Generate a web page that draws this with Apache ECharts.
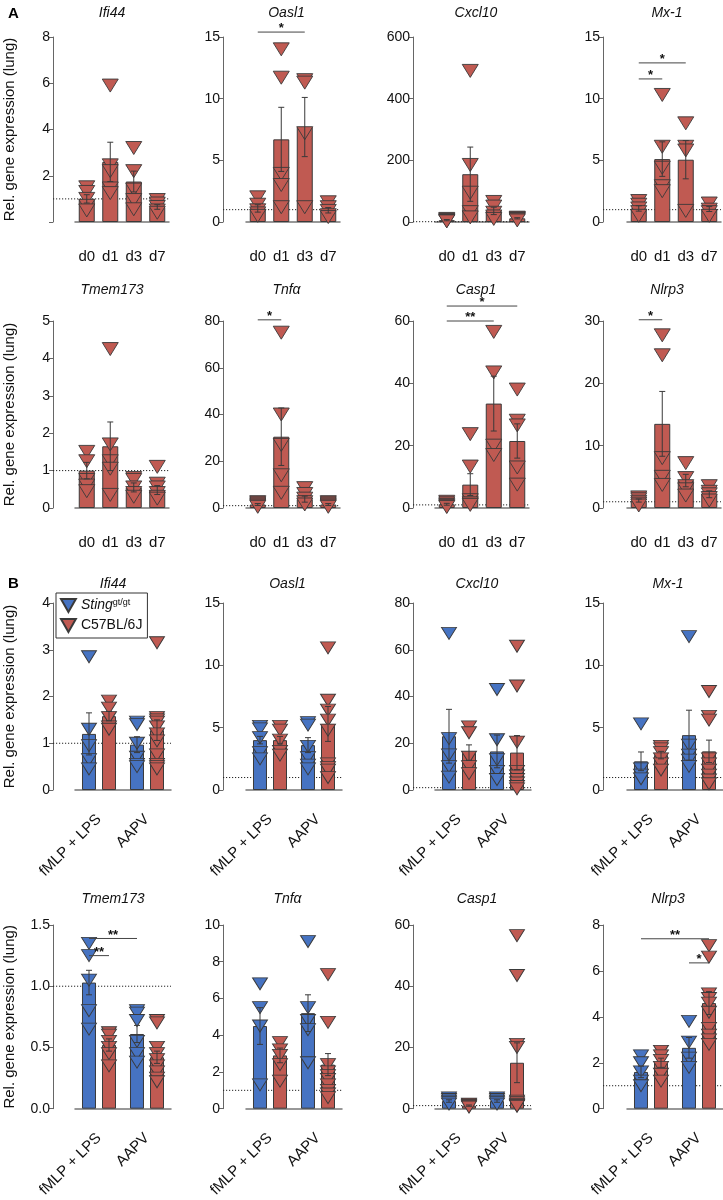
<!DOCTYPE html>
<html lang="en">
<head>
<meta charset="UTF-8">
<title>Rel. gene expression (lung)</title>
<script src="https://cdn.jsdelivr.net/npm/echarts@6/dist/echarts.min.js"></script>
<style>
  html, body { margin: 0; padding: 0; background: #fff; }
  #chart { width: 723px; height: 1200px; }
</style>
</head>
<body>
<div id="chart"></div>
<script>
    var FONT = '"Liberation Sans", Arial, sans-serif';
    var RED = '#c05a52';
    var BLUE = '#4673c2';
    var EDGE = '#3a3a3a';

    var dayCats = ['d0', 'd1', 'd3', 'd7'];
    var treatCats = ['fMLP + LPS', 'AAPV'];
    var refLevel = 1;   // dotted line, relative expression of 1

    // ---- A: time course (C57BL/6J) ----
    var ifi44A_mean = [1.0, 2.6, 1.75, 0.65];
    var ifi44A_sem = [0.18, 0.85, 0.45, 0.1];
    var ifi44A_pts = [[1.5, 1.3, 1.0, 0.7, 0.5], [5.9, 2.45, 2.2, 1.45, 1.25], [3.2, 2.2, 1.4, 0.95, 0.55], [0.95, 0.8, 0.65, 0.5, 0.4]];

    var oasl1A_mean = [1.1, 6.7, 7.7, 0.95];
    var oasl1A_sem = [0.3, 2.6, 2.4, 0.22];
    var oasl1A_pts = [[2.0, 1.4, 0.95, 0.7, 0.5], [14.0, 11.7, 3.9, 3.0, 1.2], [11.5, 11.3, 7.2, 1.2], [1.6, 1.2, 0.9, 0.55, 0.4]];
    var oasl1A_sig = [[0, 0, 2, 0, 15.4, '*']];

    var cxcl10A_mean = [6, 155, 36, 12];
    var cxcl10A_sem = [2, 88, 12, 2];
    var cxcl10A_pts = [[10, 7, 5, 3, 2], [490, 185, 95, 32, 15], [65, 50, 30, 18, 10], [14, 12, 10, 8, 5]];

    var mx1A_mean = [1.1, 5.1, 5.05, 1.05];
    var mx1A_sem = [0.22, 1.4, 1.55, 0.2];
    var mx1A_pts = [[1.7, 1.4, 1.1, 0.8, 0.5], [10.3, 6.1, 4.4, 2.9, 2.5], [8.0, 6.1, 5.8, 0.9], [1.5, 1.0, 0.8, 0.5]];
    var mx1A_sig = [[0, 0, 1, 0, 11.6, '*'], [0, 0, 2, 0, 12.9, '*']];

    var tmem173A_mean = [1.0, 1.65, 0.55, 0.48];
    var tmem173A_sem = [0.22, 0.65, 0.12, 0.12];
    var tmem173A_pts = [[1.5, 1.25, 0.75, 0.6, 0.45], [4.25, 1.7, 1.25, 1.05, 0.35], [0.8, 0.75, 0.55, 0.4, 0.3], [1.1, 0.65, 0.55, 0.4, 0.3, 0.25]];

    var tnfA_mean = [1.5, 30.5, 3.8, 1.5];
    var tnfA_sem = [0.4, 12.3, 1.3, 0.4];
    var tnfA_pts = [[2.5, 2.0, 1.5, 1.0, 0.5], [75, 40, 27, 14, 6.5], [8.5, 6, 4, 2.5, 1.5], [2.5, 2, 1.5, 1, 0.5]];
    var tnfA_sig = [[0, 0, 1, 0, 80.5, '*']];

    var casp1A_mean = [1.2, 7.5, 33.5, 21.5];
    var casp1A_sem = [0.3, 3.5, 8.8, 5.5];
    var casp1A_pts = [[2, 1.5, 1, 0.6, 0.3], [23.7, 13.3, 2.5, 1.5, 1], [56.5, 43.5, 20, 17], [38, 28, 26.5, 13, 7.5]];
    var casp1A_sig = [[0, 0, 2, 0, 60, '**'], [0, 0, 3, 0, 64.8, '*']];

    var nlrp3A_mean = [1.2, 13.5, 4.4, 2.2];
    var nlrp3A_sem = [0.25, 5.2, 1.0, 0.55];
    var nlrp3A_pts = [[1.7, 1.4, 1.0, 0.7, 0.4], [27.7, 24.5, 8, 5, 3.7], [7.2, 4.8, 3.5, 3.0, 2.0], [3.5, 2.6, 2.2, 1.6, 1.2]];
    var nlrp3A_sig = [[0, 0, 1, 0, 30.2, '*']];

    // ---- B: Sting gt/gt vs C57BL/6J ----
    var ifi44B_stingMean = [1.2, 0.97], ifi44B_stingSem = [0.45, 0.17];
    var ifi44B_stingPts = [[2.85, 1.3, 0.95, 0.65, 0.45], [1.45, 1.4, 1.0, 0.7, 0.55, 0.5]];
    var ifi44B_c57Mean = [1.58, 1.28], ifi44B_c57Sem = [0.1, 0.22];
    var ifi44B_c57Pts = [[1.9, 1.75, 1.55, 1.35, 1.3], [3.15, 1.55, 1.5, 1.45, 1.35, 1.2, 1.05, 0.75, 0.55, 0.5, 0.45]];

    var oasl1B_stingMean = [4.0, 3.6], oasl1B_stingSem = [0.3, 0.6];
    var oasl1B_stingPts = [[5.1, 4.9, 4.2, 3.0, 2.5], [5.4, 5.2, 3.5, 2.6, 2.0, 1.7]];
    var oasl1B_c57Mean = [4.0, 5.3], oasl1B_c57Sem = [0.3, 1.4];
    var oasl1B_c57Pts = [[5.1, 4.8, 4.0, 3.1, 2.8], [11.4, 7.2, 6.4, 5.6, 4.8, 2.1, 1.8, 1.6, 1.0]];

    var cxcl10B_stingMean = [23, 16.5], cxcl10B_stingSem = [11.5, 7];
    var cxcl10B_stingPts = [[67, 22, 15, 10, 5.5], [43, 21.5, 13, 8, 4.5]];
    var cxcl10B_c57Mean = [16, 16], cxcl10B_c57Sem = [3.3, 7.3];
    var cxcl10B_c57Pts = [[27, 24.5, 14, 10, 7], [61.5, 44.5, 20.5, 8, 6, 4.5, 3, 1.5, 0.5]];

    var mx1B_stingMean = [2.3, 4.4], mx1B_stingSem = [0.75, 2.0];
    var mx1B_stingPts = [[5.3, 1.7, 1.2, 0.9], [12.3, 3.6, 2.8, 2.4, 1.9]];
    var mx1B_c57Mean = [2.8, 3.1], mx1B_c57Sem = [0.3, 0.9];
    var mx1B_c57Pts = [[3.5, 3.3, 3.0, 2.5, 2.1, 1.6], [7.9, 5.9, 5.6, 2.5, 2.1, 1.6, 1.2, 0.8, 0.5]];

    var tmem173B_stingMean = [1.03, 0.61], tmem173B_stingSem = [0.1, 0.07];
    var tmem173B_stingPts = [[1.35, 1.25, 1.05, 0.8, 0.65], [0.8, 0.78, 0.72, 0.55, 0.45, 0.38]];
    var tmem173B_c57Mean = [0.52, 0.42], tmem173B_c57Sem = [0.05, 0.05];
    var tmem173B_c57Pts = [[0.62, 0.6, 0.55, 0.5, 0.45, 0.35], [0.72, 0.7, 0.5, 0.45, 0.4, 0.35, 0.3, 0.25, 0.22]];
    var tmem173B_sig = [[0, -1, 1, -1, 1.39, '**'], [0, -1, 0, 1, 1.25, '**']];

    var tnfB_stingMean = [4.5, 5.2], tnfB_stingSem = [1.0, 1.0];
    var tnfB_stingPts = [[6.8, 5.5, 4.5, 1.3], [9.1, 5.5, 4.8, 4.3, 2.5]];
    var tnfB_c57Mean = [2.9, 2.4], tnfB_c57Sem = [0.4, 0.6];
    var tnfB_c57Pts = [[3.6, 3.2, 2.9, 2.4, 1.5], [7.3, 4.7, 2.4, 2.0, 1.8, 1.6, 1.3, 1.0, 0.8, 0.6]];

    var casp1B_stingMean = [2.5, 2.5], casp1B_stingSem = [0.4, 0.4];
    var casp1B_stingPts = [[3.5, 3, 2.5, 2, 1.5], [3.5, 3, 2.5, 2, 1.5]];
    var casp1B_c57Mean = [1.0, 15], casp1B_c57Sem = [0.2, 6.5];
    var casp1B_c57Pts = [[1.5, 1.2, 1, 0.8, 0.5], [56.5, 43.5, 21, 20, 2.5, 2, 1.5, 1.2, 1, 0.8]];

    var nlrp3B_stingMean = [1.6, 2.65], nlrp3B_stingSem = [0.25, 0.45];
    var nlrp3B_stingPts = [[2.3, 2.0, 1.6, 1.2, 1.0], [3.8, 2.9, 2.2, 1.8]];
    var nlrp3B_c57Mean = [2.0, 4.6], nlrp3B_c57Sem = [0.2, 0.5];
    var nlrp3B_c57Pts = [[2.5, 2.3, 2.1, 1.8, 1.5, 1.2], [7.1, 6.6, 5.0, 4.8, 4.6, 4.2, 3.5, 3.2, 3.0, 2.8]];
    var nlrp3B_sig = [[0, -1, 1, 1, 7.4, '**'], [1, -1, 1, 1, 6.35, '*']];

    // layout
    var rowTops = [37, 321, 603, 925];
    var rowHeights = [185, 187, 187, 187];
    var titleTops = [1, 278, 572, 887];
    var colLefts = [75, 246, 435, 627];
    var colYOff = [22, 23, 22, 24];
    var PAIR_OFF = 10;   // half distance between the two bars of a group

    var panels = [
        {t: 'Ifi44', row: 0, col: 0, max: 8, step: 2, hideZero: true, mean: ifi44A_mean, sem: ifi44A_sem, pts: ifi44A_pts},
        {t: 'Oasl1', row: 0, col: 1, max: 15, step: 5, mean: oasl1A_mean, sem: oasl1A_sem, pts: oasl1A_pts, sig: oasl1A_sig},
        {t: 'Cxcl10', row: 0, col: 2, max: 600, step: 200, mean: cxcl10A_mean, sem: cxcl10A_sem, pts: cxcl10A_pts},
        {t: 'Mx-1', row: 0, col: 3, max: 15, step: 5, mean: mx1A_mean, sem: mx1A_sem, pts: mx1A_pts, sig: mx1A_sig},
        {t: 'Tmem173', row: 1, col: 0, max: 5, step: 1, mean: tmem173A_mean, sem: tmem173A_sem, pts: tmem173A_pts},
        {t: 'Tnfα', row: 1, col: 1, max: 80, step: 20, mean: tnfA_mean, sem: tnfA_sem, pts: tnfA_pts, sig: tnfA_sig},
        {t: 'Casp1', row: 1, col: 2, max: 60, step: 20, mean: casp1A_mean, sem: casp1A_sem, pts: casp1A_pts, sig: casp1A_sig},
        {t: 'Nlrp3', row: 1, col: 3, max: 30, step: 10, mean: nlrp3A_mean, sem: nlrp3A_sem, pts: nlrp3A_pts, sig: nlrp3A_sig},

        {t: 'Ifi44', row: 2, col: 0, max: 4, step: 1, groups: [[ifi44B_stingMean, ifi44B_stingSem, ifi44B_stingPts], [ifi44B_c57Mean, ifi44B_c57Sem, ifi44B_c57Pts]]},
        {t: 'Oasl1', row: 2, col: 1, max: 15, step: 5, groups: [[oasl1B_stingMean, oasl1B_stingSem, oasl1B_stingPts], [oasl1B_c57Mean, oasl1B_c57Sem, oasl1B_c57Pts]]},
        {t: 'Cxcl10', row: 2, col: 2, max: 80, step: 20, groups: [[cxcl10B_stingMean, cxcl10B_stingSem, cxcl10B_stingPts], [cxcl10B_c57Mean, cxcl10B_c57Sem, cxcl10B_c57Pts]]},
        {t: 'Mx-1', row: 2, col: 3, max: 15, step: 5, groups: [[mx1B_stingMean, mx1B_stingSem, mx1B_stingPts], [mx1B_c57Mean, mx1B_c57Sem, mx1B_c57Pts]]},
        {t: 'Tmem173', row: 3, col: 0, max: 1.5, step: 0.5, dec: 1, sig: tmem173B_sig, groups: [[tmem173B_stingMean, tmem173B_stingSem, tmem173B_stingPts], [tmem173B_c57Mean, tmem173B_c57Sem, tmem173B_c57Pts]]},
        {t: 'Tnfα', row: 3, col: 1, max: 10, step: 2, groups: [[tnfB_stingMean, tnfB_stingSem, tnfB_stingPts], [tnfB_c57Mean, tnfB_c57Sem, tnfB_c57Pts]]},
        {t: 'Casp1', row: 3, col: 2, max: 60, step: 20, groups: [[casp1B_stingMean, casp1B_stingSem, casp1B_stingPts], [casp1B_c57Mean, casp1B_c57Sem, casp1B_c57Pts]]},
        {t: 'Nlrp3', row: 3, col: 3, max: 8, step: 2, sig: nlrp3B_sig, groups: [[nlrp3B_stingMean, nlrp3B_stingSem, nlrp3B_stingPts], [nlrp3B_c57Mean, nlrp3B_c57Sem, nlrp3B_c57Pts]]}
    ];

    var option = {
        animation: false,
        backgroundColor: '#fff',
        title: [
            {text: 'A', left: 3, top: 1, textStyle: {fontSize: 15, fontWeight: 'bold', fontFamily: FONT, color: '#000'}},
            {text: 'B', left: 3, top: 571, textStyle: {fontSize: 15, fontWeight: 'bold', fontFamily: FONT, color: '#000'}}
        ],
        legend: {
            data: ['Sting', 'C57BL/6J'],
            orient: 'vertical',
            left: 56, top: 593,
            borderColor: '#333', borderWidth: 1,
            padding: [5, 5, 5, 4], itemGap: 5,
            itemWidth: 15, itemHeight: 13,
            icon: 'path://M0,0L16,0L8,14Z',
            formatter: function (n) { return n === 'Sting' ? '{it|Sting}{sup|gt/gt}' : n; },
            textStyle: {
                fontSize: 14, fontFamily: FONT, color: '#111',
                rich: {
                    it: {fontStyle: 'italic', fontSize: 14, fontFamily: FONT, color: '#111'},
                    sup: {fontSize: 9, fontFamily: FONT, color: '#111', verticalAlign: 'top', padding: [0, 0, 6, 0]}
                }
            }
        },
        grid: [], xAxis: [], yAxis: [], series: []
    };

    function errRender(off) {
        return function (params, api) {
            var c = api.value(0), m = api.value(1), s = api.value(2);
            var x = api.coord([c, m])[0] + off;
            var yt = api.coord([c, m + s])[1];
            var yb = api.coord([c, Math.max(m - s, 0)])[1];
            var st = {stroke: '#3a3a3a', lineWidth: 1};
            return {type: 'group', children: [
                {type: 'line', shape: {x1: x, y1: yt, x2: x, y2: yb}, style: st},
                {type: 'line', shape: {x1: x - 3, y1: yt, x2: x + 3, y2: yt}, style: st},
                {type: 'line', shape: {x1: x - 3, y1: yb, x2: x + 3, y2: yb}, style: st}
            ]};
        };
    }

    function refRender(yOff) {
        return function (params, api) {
            var cs = params.coordSys;
            var y = api.coord([0, api.value(1)])[1];
            return {type: 'line', shape: {x1: cs.x - yOff, y1: y, x2: cs.x + cs.width, y2: y},
                style: {stroke: '#222', lineWidth: 1, lineDash: [1.2, 1.8]}};
        };
    }

    function sigRender(sig) {
        return function (params, api) {
            var s = sig[params.dataIndex];
            var p1 = api.coord([s[0], s[4]]);
            var p2 = api.coord([s[2], s[4]]);
            var x1 = p1[0] + s[1] * PAIR_OFF, x2 = p2[0] + s[3] * PAIR_OFF;
            return {type: 'group', children: [
                {type: 'line', shape: {x1: x1, y1: p1[1], x2: x2, y2: p1[1]}, style: {stroke: '#444', lineWidth: 1}},
                {type: 'text', style: {text: s[5], x: (x1 + x2) / 2, y: p1[1] + 3, align: 'center', verticalAlign: 'bottom',
                    fontSize: 13, fontWeight: 'bold', fontFamily: FONT, fill: '#111'}}
            ]};
        };
    }

    panels.forEach(function (p, i) {
        var grouped = !!p.groups;
        var left = colLefts[p.col], yOff = colYOff[p.col];
        var width = grouped ? 96 : 94;
        option.grid.push({left: left, top: rowTops[p.row], width: width, height: rowHeights[p.row]});

        option.title.push({
            text: p.t, left: (left - yOff + left + width) / 2 - (p.col === 0 ? 4 : 0), top: titleTops[p.row], textAlign: 'center',
            textStyle: {fontSize: 14, fontStyle: 'italic', fontWeight: 'normal', fontFamily: FONT, color: '#111'}
        });

        option.xAxis.push({
            gridIndex: i, type: 'category', data: grouped ? treatCats : dayCats, offset: 20,
            axisLine: {lineStyle: {color: '#777', width: 1.5}},
            axisTick: {alignWithLabel: true, length: 4, lineStyle: {color: '#777'}},
            axisLabel: {fontSize: 15, fontFamily: FONT, color: '#111', margin: 7, rotate: grouped ? 45 : 0, interval: 0}
        });

        option.yAxis.push({
            gridIndex: i, type: 'value', min: 0, max: p.max, interval: p.step, offset: yOff,
            name: p.col === 0 ? 'Rel. gene expression (lung)' : '',
            nameLocation: 'middle', nameGap: 36,
            nameTextStyle: {fontSize: 15, fontFamily: FONT, color: '#111'},
            axisLine: {show: true, lineStyle: {color: '#666', width: 1}},
            axisTick: {show: true, length: 4, lineStyle: {color: '#666'}},
            splitLine: {show: false},
            axisLabel: {fontSize: 14, fontFamily: FONT, color: '#111', margin: 3,
                formatter: function (v) {
                    if (p.hideZero && v === 0) return '';
                    return p.dec ? v.toFixed(p.dec) : String(v);
                }}
        });

        option.series.push({
            type: 'custom', xAxisIndex: i, yAxisIndex: i, z: 1, silent: true,
            data: [[0, refLevel]], renderItem: refRender(yOff)
        });

        var groups = grouped ? p.groups : [[p.mean, p.sem, p.pts]];
        groups.forEach(function (g, k) {
            var color = grouped ? (k === 0 ? BLUE : RED) : RED;
            var off = grouped ? (k === 0 ? -PAIR_OFF : PAIR_OFF) : 0;
            option.series.push({
                name: grouped ? (k === 0 ? 'Sting' : 'C57BL/6J') : 'day',
                type: 'bar', xAxisIndex: i, yAxisIndex: i, z: 2,
                barWidth: grouped ? 14 : 16, barGap: '43%',
                itemStyle: {color: color, borderColor: EDGE, borderWidth: 1},
                data: g[0]
            });
            var pts = [];
            g[2].forEach(function (arr, c) { arr.forEach(function (v) { pts.push([c, v]); }); });
            option.series.push({
                name: 'points', type: 'scatter', xAxisIndex: i, yAxisIndex: i, z: 3,
                symbol: 'triangle', symbolRotate: 180, symbolSize: grouped ? [15, 12] : [16, 13],
                symbolOffset: [off, 0],
                itemStyle: {color: color, borderColor: EDGE, borderWidth: 0.9, opacity: 1},
                data: pts
            });
            option.series.push({
                type: 'custom', xAxisIndex: i, yAxisIndex: i, z: 4, silent: true,
                data: g[0].map(function (m, c) { return [c, m, g[1][c]]; }),
                renderItem: errRender(off)
            });
        });

        if (p.sig) {
            option.series.push({
                type: 'custom', xAxisIndex: i, yAxisIndex: i, z: 5, silent: true, clip: false,
                data: p.sig.map(function (s) { return [s[0], s[4]]; }),
                renderItem: sigRender(p.sig)
            });
        }
    });

    var chart = echarts.init(document.getElementById('chart'));
    chart.setOption(option);
</script>
</body>
</html>
